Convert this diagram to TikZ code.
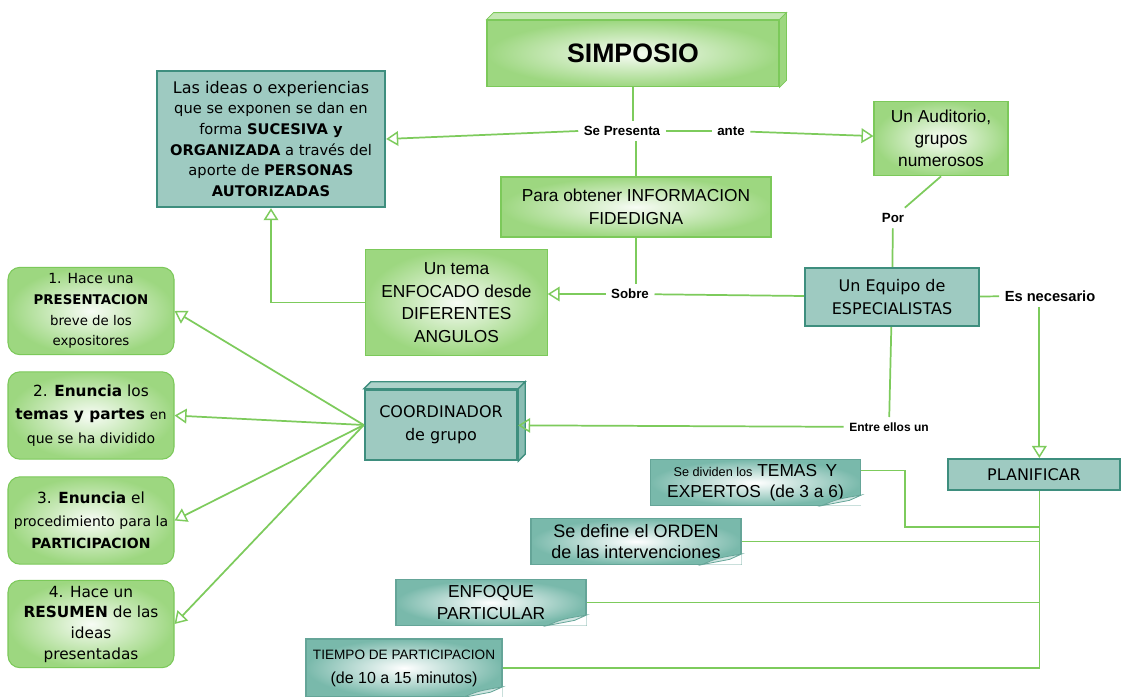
\documentclass[tikz,border=0pt]{standalone}
\usepackage{fontspec}
\setmainfont{Liberation Sans}
\newfontfamily\tahoma{DejaVu Sans}
\usetikzlibrary{arrows.meta}

\definecolor{leaf}{HTML}{9DD780}
\definecolor{leafline}{HTML}{7CC95A}
\definecolor{linkgreen}{HTML}{7DCB5C}
\definecolor{seafill}{HTML}{9ECAC1}
\definecolor{sealine}{HTML}{3E8E7E}
\definecolor{seanote}{HTML}{79B9AB}

\tikzset{
  greenbox/.style={draw=leafline, line width=0.8pt, inner color=leaf!8, outer color=leaf, align=center, inner sep=2pt},
  leafcard/.style={greenbox, rounded corners=9pt, minimum width=124.5pt, minimum height=65.5pt},
  seabox/.style={draw=sealine, line width=1.8pt, fill=seafill, align=center, inner sep=2pt},
  notebox/.style={draw=sealine!80, line width=0.8pt, inner color=white, outer color=seanote, align=center, inner sep=2pt, minimum height=34pt},
  linklabel/.style={inner sep=4pt, font=\bfseries\fontsize{#1}{12}\selectfont},
  linklabel/.default=10,
  wire/.style={draw=linkgreen, line width=1.3pt},
  arr/.style={-{Triangle[open,length=9pt,width=11pt,line width=1.1pt]}},
}

\begin{document}
\begin{tikzpicture}[x=0.75pt, y=-0.75pt]
\useasboundingbox (0,0) rectangle (1123,696);
\fill[white] (0,0) rectangle (1123,696);

% main boxes
\node[greenbox, minimum width=219pt, minimum height=50pt, font=\bfseries\fontsize{20}{24}\selectfont] (simposio) at (633,53.5) {SIMPOSIO};
\filldraw[draw=leafline, fill=leaf!60, line width=0.6pt] (simposio.north west) -- ++(7,-7) -- ([shift={(7,-7)}]simposio.north east) -- (simposio.north east) -- cycle;
\filldraw[draw=leafline, fill=leaf, line width=0.6pt] (simposio.north east) -- ++(7,-7) -- ([shift={(7,-7)}]simposio.south east) -- (simposio.south east) -- cycle;

\node[seabox, minimum width=171pt, minimum height=102pt, font=\tahoma\fontsize{11}{15.5}\selectfont] (ideas) at (271,139)
  {{\fontsize{12}{15.5}\selectfont Las ideas o experiencias}\\ que se exponen se dan en\\ forma \textbf{SUCESIVA y}\\ \textbf{ORGANIZADA} a través del\\ aporte de \textbf{PERSONAS}\\ \textbf{AUTORIZADAS}};
\node[greenbox, minimum width=100.5pt, minimum height=56pt, font=\fontsize{13}{16.5}\selectfont] (auditorio) at (941,138.5) {Un Auditorio,\\ grupos\\ numerosos};
\node[greenbox, minimum width=202.5pt, minimum height=45pt, font=\fontsize{13}{17}\selectfont] (obtener) at (636,207) {Para obtener INFORMACION\\ FIDEDIGNA};
\node[greenbox, minimum width=136pt, minimum height=79pt, font=\fontsize{13}{17}\selectfont] (tema) at (456.5,302.5) {Un tema\\ ENFOCADO desde\\ DIFERENTES\\ ANGULOS};
\node[seabox, minimum width=130.5pt, minimum height=43.5pt, font=\tahoma\fontsize{12}{17}\selectfont] (equipo) at (892,297) {Un Equipo de\\ ESPECIALISTAS};

\node[seabox, minimum width=114pt, minimum height=52.5pt, font=\tahoma\fontsize{12}{17}\selectfont] (coord) at (441,425) {COORDINADOR\\ de grupo};
\filldraw[draw=sealine, fill=seafill!85, line width=1pt] (coord.north west) -- ++(7,-7) -- ([shift={(7,-7)}]coord.north east) -- (coord.north east) -- cycle;
\filldraw[draw=sealine, fill=seafill!80!sealine, line width=1pt] (coord.north east) -- ++(7,-7) -- ([shift={(7,-7)}]coord.south east) -- (coord.south east) -- cycle;

\node[seabox, minimum width=129pt, minimum height=23pt, font=\tahoma\fontsize{12}{14}\selectfont] (planif) at (1034,474.5) {PLANIFICAR};

% coordinator tasks
\node[leafcard, font=\tahoma\fontsize{10}{15.5}\selectfont] (b1) at (91,311) {{\fontsize{10.5}{15.5}\selectfont 1. Hace una}\\ \textbf{PRESENTACION}\\ breve de los\\ expositores};
\node[leafcard, font=\tahoma\fontsize{11.5}{17.5}\selectfont] (b2) at (91,415.5) {2. \textbf{Enuncia} los\\ \textbf{temas y partes} {\fontsize{10}{17.5}\selectfont en}\\ {\fontsize{10.5}{17.5}\selectfont que se ha dividido}};
\node[leafcard, font=\tahoma\fontsize{10.5}{17}\selectfont] (b3) at (91,520.5) {{\fontsize{11.5}{17}\selectfont 3. \textbf{Enuncia} el}\\ procedimiento para la\\ \textbf{PARTICIPACION}};
\node[leafcard, font=\tahoma\fontsize{11.5}{15.5}\selectfont] (b4) at (91,624) {4. Hace un\\ \textbf{RESUMEN} de las\\ ideas\\ presentadas};

% planning notes
\node[notebox, minimum width=158pt, font=\fontsize{13}{16}\selectfont] (n1) at (755.5,482.5) {{\fontsize{9.5}{16}\selectfont Se dividen los} TEMAS\enspace Y\\ EXPERTOS\enspace (de 3 a 6)};
\node[notebox, minimum width=157.5pt, font=\fontsize{13.5}{15.5}\selectfont] (n2) at (636,541.5) {Se define el ORDEN\\ de las intervenciones};
\node[notebox, minimum width=142.5pt, font=\fontsize{13}{16}\selectfont] (n3) at (491,602.5) {ENFOQUE\\ PARTICULAR};
\node[notebox, minimum width=147pt, minimum height=43.5pt, font=\fontsize{10.2}{18}\selectfont] (n4) at (404,668) {TIEMPO DE PARTICIPACION\\ {\fontsize{12}{18}\selectfont (de 10 a 15 minutos)}};
\foreach \n in {n1,n2,n3,n4} {
  \fill[white] ([xshift=-30pt]\n.south east) -- (\n.south east) -- ([yshift=8pt]\n.south east) -- cycle;
  \filldraw[draw=sealine!80, fill=seanote!35, line width=0.6pt] ([xshift=-30pt]\n.south east) .. controls ([xshift=-18pt,yshift=5pt]\n.south east) .. ([yshift=8pt]\n.south east) -- ([xshift=-9pt,yshift=4pt]\n.south east) -- cycle;
}

% link words
\node[linklabel] (sepresenta) at (622,131) {Se Presenta};
\node[linklabel] (ante) at (731,131) {ante};
\node[linklabel] (sobre) at (630,294) {Sobre};
\node[linklabel] (por) at (893,218) {Por};
\node[linklabel=9] (entre) at (889,427) {Entre ellos un};
\node[linklabel=11] (esnec) at (1050,296) {Es necesario};

% connectors
\draw[wire] (simposio.south) -- (simposio.south |- sepresenta.north);
\draw[wire, arr] (sepresenta.west) -- (ideas.east);
\draw[wire] (sepresenta) -- (ante);
\draw[wire, arr] (ante) -- (auditorio);
\draw[wire] (obtener.north |- sepresenta.south) -- (obtener.north);
\draw[wire] (obtener.south) -- (obtener.south |- sobre.north);
\draw[wire, arr] (sobre.west) -- (tema.east |- sobre.west);
\draw[wire] (sobre) -- (equipo);
\draw[wire, arr] (tema.west) -| (ideas.south);
\draw[wire] (auditorio.south) -- (por);
\draw[wire] (por) -- (equipo);
\draw[wire] (equipo) -- (entre);
\draw[wire, arr] (entre) -- (coord);
\draw[wire] (equipo) -- (esnec);
\coordinate (bustop) at ([xshift=4pt]planif.south);
\coordinate (planin) at ([xshift=4pt]planif.north);
\draw[wire, arr] (planin |- esnec.south) -- (planin);
\foreach \b in {b1,b2,b3,b4}
  \draw[wire, arr] (coord.west) -- (\b.east);

\coordinate (busend) at (bustop |- n4.east);
\coordinate (n1bend) at (905,527);
\draw[wire, line width=1pt] (bustop) -- (busend) -- (n4.east);
\draw[wire, line width=1pt] (n3.east) -- (n3.east -| busend);
\draw[wire, line width=1pt] (n2.east) -- (n2.east -| busend);
\draw[wire, line width=1pt] ([yshift=9pt]n1.east) -| (n1bend) -- (n1bend -| busend);
\end{tikzpicture}
\end{document}
